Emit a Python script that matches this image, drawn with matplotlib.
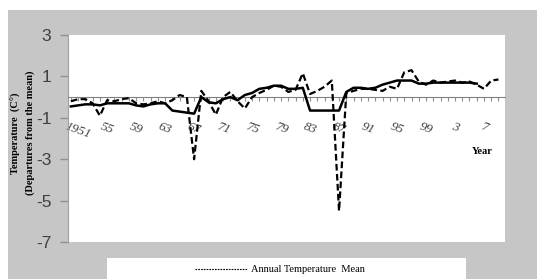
import numpy as np
import matplotlib
matplotlib.use('Agg')
from matplotlib import pyplot as plt
from matplotlib.patches import Rectangle
from matplotlib.lines import Line2D

# Years and series
years = np.arange(1950, 2010)
annual = [-0.2, -0.1, -0.1, -0.3, -0.9, -0.15, -0.2, -0.1, -0.05, -0.3,
          -0.35, -0.3, -0.2, -0.3, -0.15, 0.1, 0.0, -3.0, 0.3, -0.2,
          -0.85, 0.0, 0.25, -0.2, -0.55, 0.0, 0.2, 0.35, 0.55, 0.5,
          0.25, 0.35, 1.15, 0.15, 0.3, 0.5, 0.8, -5.5, 0.2, 0.3,
          0.4, 0.4, 0.35, 0.3, 0.5, 0.4, 1.2, 1.3, 0.75, 0.6,
          0.8, 0.7, 0.75, 0.8, 0.7, 0.75, 0.6, 0.4, 0.8, 0.85]
smooth = [-0.45, -0.4, -0.35, -0.35, -0.4, -0.3, -0.3, -0.3, -0.3, -0.4,
          -0.45, -0.35, -0.3, -0.3, -0.65, -0.7, -0.75, -0.8, 0.0, -0.25,
          -0.3, -0.1, 0.0, -0.15, 0.1, 0.2, 0.4, 0.45, 0.55, 0.55,
          0.4, 0.4, 0.45, -0.65, -0.65, -0.65, -0.65, -0.65, 0.25, 0.45,
          0.45, 0.4, 0.45, 0.6, 0.7, 0.8, 0.8, 0.8, 0.65, 0.65,
          0.7, 0.7, 0.7, 0.7, 0.7, 0.7, 0.65, np.nan, np.nan, np.nan]
year_labels = ['1951', '55', '59', '63', '67', '71', '75', '79', '83', '87',
               '91', '95', '99', '3', '7']
yticks = [-7, -5, -3, -1, 1, 3]

W, H = 537, 279
fig = plt.figure(figsize=(W / 100, H / 100), dpi=100)
fig.patch.set_facecolor('white')
# grey chart area
fig.patches.append(Rectangle((8 / W, 0), 529 / W, 269 / H, transform=fig.transFigure,
                             facecolor='#c6c6c6', edgecolor='none', zorder=-10))

ax = fig.add_axes([68 / W, (H - 242) / H, 437 / W, 207 / H])
ax.set_facecolor('white')

ax.plot(years, smooth, color='black', lw=1.8, zorder=3)
ax.plot(years, annual, color='black', lw=1.6, ls=(0, (3, 1.5)), zorder=4)

ax.set_xlim(1949.6, 2009.9)
ax.set_ylim(-7, 3)

# y axis
ax.set_yticks(yticks)
ax.set_yticklabels([str(v) for v in yticks], fontsize=12.5, color='#404040',
                   family='Liberation Sans')
ax.tick_params(axis='y', length=6, color='#909090', width=1, pad=6)
for s in ['top', 'right']:
    ax.spines[s].set_visible(False)
ax.spines['left'].set_color('#a0a0a0')

# x axis sits on zero line with yearly ticks
ax.spines['bottom'].set_position(('data', 0))
ax.spines['bottom'].set_color('#808080')
ax.set_xticks(years)
lab = []
for y in years:
    if y >= 1951 and (y - 1951) % 4 == 0:
        lab.append(year_labels[(y - 1951) // 4])
    else:
        lab.append('')
ax.set_xticklabels(lab, fontsize=9.5, style='italic', family='Liberation Serif',
                   rotation=-20, color='#404040')
ax.tick_params(axis='x', length=3, color='#909090', width=0.8, pad=14)

fig.text(482 / W, 1 - 152 / H, 'Year', fontsize=7.5, fontweight='bold',
         family='Liberation Serif', ha='center', va='center')

fig.text(16 / W, 1 - 133 / H, 'Temperature  (C°)', rotation=90, fontsize=7.5,
         fontweight='bold', family='Liberation Serif', ha='center', va='center')
fig.text(30 / W, 1 - 133 / H, '(Departures from the mean)', rotation=90, fontsize=7.5,
         fontweight='bold', family='Liberation Serif', ha='center', va='center')

# legend box
fig.patches.append(Rectangle((107 / W, 0), 359 / W, 21 / H, transform=fig.transFigure,
                             facecolor='white', edgecolor='none', zorder=-5))
fig.lines.append(Line2D([195 / W, 247 / W], [1 - 269 / H, 1 - 269 / H],
                        transform=fig.transFigure, color='black', lw=0.8,
                        ls=(0, (1.5, 1))))
fig.text(251 / W, 1 - 269 / H, 'Annual Temperature  Mean', fontsize=7.5,
         family='Liberation Serif', va='center', ha='left')

fig.savefig('out.png', dpi=100)
